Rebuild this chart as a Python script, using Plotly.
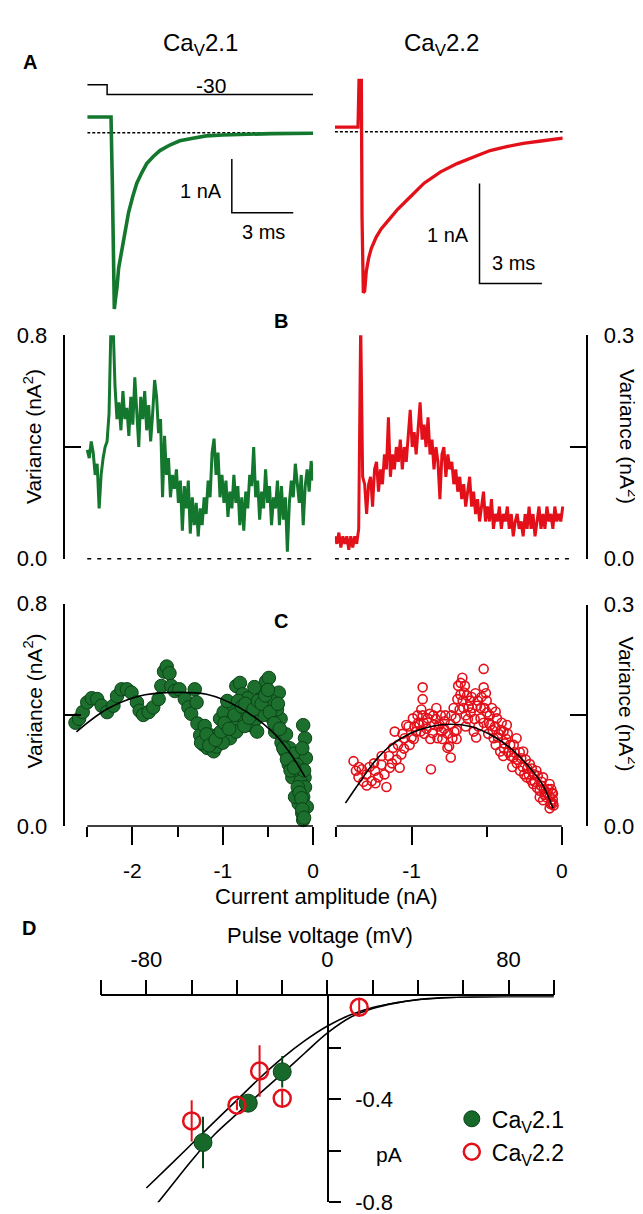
import plotly.graph_objects as go

W, H = 643, 1214
FONT = "Liberation Sans, Arial, sans-serif"
GREEN = "#13772d"
GREEN_DARK = "#0b4418"
RED = "#e3101a"

# ---------------- panel A: tail currents (time in ms, current in nA) ----------------
a21_t = [0, 1.161, 1.225, 1.290, 1.322, 1.387, 1.451, 1.532, 1.693, 1.855, 2.016, 2.225, 2.419,
         2.661, 2.903, 3.226, 3.548, 4.032, 4.516, 5.161, 5.806, 6.612, 7.419, 9.032, 11.03]
a21_i = [0.294, 0.294, -0.948, -3.150, -3.303, -3.089, -2.905, -2.538, -2.171, -1.835, -1.499,
         -1.193, -0.948, -0.752, -0.581, -0.446, -0.336, -0.232, -0.153, -0.104, -0.061, -0.043,
         -0.031, -0.018, -0.012]

a22_t = [0, 1.111, 1.159, 1.270, 1.302, 1.365, 1.429, 1.508, 1.619, 1.746, 1.984, 2.222, 2.619,
         3.016, 3.651, 4.286, 5.079, 5.873, 6.667, 7.460, 8.254, 9.048, 10.0, 10.952]
a22_i = [0.046, 0.046, 0.518, 0.518, -0.851, -1.627, -1.611, -1.413, -1.281, -1.182, -1.066,
         -0.983, -0.884, -0.785, -0.653, -0.521, -0.406, -0.323, -0.257, -0.191, -0.152, -0.119,
         -0.092, -0.066]

# voltage protocol (mV)
step_t = [0, 0.97, 0.97, 11.03]
step_mv = [0, 0, -30, -30]

# ---------------- panel B: variance vs time (0.1 ms samples) ----------------
b_dt = 0.1
b21_var = [0.39, 0.36, 0.42, 0.38, 0.30, 0.34, 0.18, 0.30, 0.36, 0.40, 0.42, 0.52, 0.85, 0.85,
           0.62, 0.50, 0.56, 0.46, 0.60, 0.50, 0.54, 0.44, 0.58, 0.48, 0.65, 0.54, 0.40, 0.58,
           0.50, 0.60, 0.46, 0.55, 0.42, 0.52, 0.64, 0.58, 0.45, 0.50, 0.22, 0.44, 0.30, 0.36,
           0.22, 0.30, 0.25, 0.32, 0.20, 0.28, 0.10, 0.26, 0.18, 0.28, 0.09, 0.22, 0.12, 0.20,
           0.08, 0.18, 0.12, 0.22, 0.16, 0.28, 0.22, 0.38, 0.43, 0.30, 0.38, 0.22, 0.30, 0.20,
           0.28, 0.15, 0.24, 0.18, 0.30, 0.20, 0.26, 0.12, 0.22, 0.10, 0.24, 0.18, 0.30, 0.26,
           0.40, 0.22, 0.28, 0.14, 0.24, 0.18, 0.32, 0.20, 0.26, 0.12, 0.22, 0.18, 0.28, 0.12,
           0.26, 0.14, 0.22, 0.025, 0.20, 0.28, 0.22, 0.34, 0.26, 0.20, 0.30, 0.12, 0.26, 0.32,
           0.24, 0.35, 0.28]
b22_var = [0.030, 0.020, 0.035, 0.015, 0.030, 0.020, 0.030, 0.012, 0.030, 0.015, 0.030, 0.020,
           0.040, 0.320, 0.110, 0.100, 0.060, 0.100, 0.110, 0.070, 0.120, 0.130, 0.090, 0.120,
           0.100, 0.140, 0.120, 0.190, 0.110, 0.140, 0.120, 0.150, 0.130, 0.160, 0.120, 0.150,
           0.130, 0.170, 0.200, 0.150, 0.170, 0.140, 0.180, 0.210, 0.160, 0.180, 0.150, 0.190,
           0.140, 0.160, 0.120, 0.150, 0.130, 0.080, 0.140, 0.150, 0.110, 0.140, 0.120, 0.130,
           0.100, 0.120, 0.090, 0.110, 0.080, 0.100, 0.070, 0.090, 0.110, 0.070, 0.090, 0.060,
           0.080, 0.050, 0.070, 0.090, 0.050, 0.070, 0.050, 0.080, 0.040, 0.060, 0.050, 0.070,
           0.040, 0.060, 0.050, 0.070, 0.040, 0.060, 0.030, 0.050, 0.060, 0.040, 0.050, 0.030,
           0.060, 0.040, 0.070, 0.040, 0.060, 0.030, 0.050, 0.070, 0.040, 0.060, 0.040, 0.070,
           0.050, 0.060, 0.040, 0.070, 0.050, 0.060, 0.050, 0.070]
b21_t = [k * b_dt for k in range(len(b21_var))]
b22_t = [k * b_dt for k in range(len(b22_var))]

# ---------------- panel C: variance vs mean current ----------------
c21_amp = [-2.63, -2.59, -2.55, -2.50, -2.45, -2.39, -2.34, -2.28, -2.21, -2.17, -2.12, -2.06,
           -2.01, -1.95, -1.92, -1.88, -1.82, -1.77, -1.71, -1.68, -1.65, -1.62, -1.59, -1.57,
           -1.53, -1.48, -1.42, -1.38, -1.35, -1.31, -1.29, -1.28, -1.25, -1.21, -1.17, -1.14,
           -1.10, -1.07, -1.03, -0.99, -0.96, -0.92, -0.88, -0.85, -0.81, -0.78, -0.74, -0.70,
           -0.67, -0.63, -0.59, -0.56, -0.52, -0.49, -0.47, -0.45, -0.42, -0.38, -0.36, -0.34,
           -0.31, -0.27, -0.23, -0.20, -0.16, -0.13, -0.11, -0.09, -0.08, -0.095, -0.11, -0.16,
           -0.12, -0.11, -0.20, -0.07, -1.20, -1.05, -0.95, -0.90, -0.80, -0.72, -0.65, -0.60,
           -0.55, -0.50, -0.46, -0.40, -0.35, -0.30, -0.26, -0.22, -0.18, -0.14, -0.12, -0.10,
           -0.09, -1.12, -1.00, -0.85, -0.76, -0.68, -0.62,
           -1.24, -1.18, -1.15, -1.08, -1.02, -0.98, -0.93, -0.87, -0.83, -0.79, -0.75, -0.71,
           -0.66, -0.61, -0.57, -0.53, -0.50, -0.48, -0.43, -0.39, -0.37, -0.33, -0.29, -0.25,
           -0.21, -0.17, -0.15, -0.13, -0.12, -0.10]
c21_var = [0.372, 0.386, 0.410, 0.445, 0.460, 0.457, 0.433, 0.410, 0.433, 0.468, 0.492, 0.492,
           0.480, 0.445, 0.415, 0.400, 0.410, 0.427, 0.457, 0.504, 0.556, 0.574, 0.550, 0.504,
           0.486, 0.492, 0.457, 0.427, 0.404, 0.492, 0.445, 0.369, 0.327, 0.292, 0.281, 0.327,
           0.269, 0.286, 0.386, 0.410, 0.363, 0.316, 0.433, 0.504, 0.515, 0.474, 0.410, 0.363,
           0.445, 0.386, 0.457, 0.480, 0.521, 0.533, 0.480, 0.386, 0.339, 0.480, 0.386, 0.316,
           0.269, 0.222, 0.175, 0.245, 0.198, 0.245, 0.363, 0.316, 0.245, 0.175, 0.105, 0.081,
           0.046, 0.022, 0.105, 0.069, 0.360, 0.330, 0.450, 0.380, 0.400, 0.460, 0.500, 0.420,
           0.400, 0.440, 0.450, 0.420, 0.300, 0.330, 0.280, 0.260, 0.220, 0.160, 0.280, 0.200,
           0.140, 0.300, 0.300, 0.340, 0.360, 0.400, 0.340,
           0.30, 0.33, 0.29, 0.31, 0.34, 0.37, 0.35, 0.40, 0.45, 0.43, 0.44, 0.39,
           0.42, 0.45, 0.44, 0.47, 0.49, 0.41, 0.37, 0.44, 0.35, 0.28, 0.24, 0.20,
           0.21, 0.14, 0.12, 0.10, 0.06, 0.03]
c21_fit_amp = [-2.62, -2.28, -1.92, -1.62, -1.18, -0.82, -0.45, -0.27, -0.09]
c21_fit_var = [0.339, 0.421, 0.468, 0.480, 0.474, 0.427, 0.339, 0.269, 0.177]

c22_amp = [-1.386, -1.353, -1.331, -1.298, -1.265, -1.243, -1.222, -1.199, -1.167, -1.145, -1.123,
           -1.112, -1.079, -1.068, -1.046, -1.035, -1.013, -0.991, -0.969, -0.947, -0.926, -0.926,
           -0.926, -0.893, -0.871, -0.849, -0.827, -0.805, -0.783, -0.761, -0.739, -0.728, -0.706,
           -0.695, -0.673, -0.662, -0.651, -0.630, -0.607, -0.586, -0.564, -0.541, -0.520, -0.520,
           -0.498, -0.476, -0.454, -0.432, -0.410, -0.388, -0.366, -0.344, -0.322, -0.301, -0.278,
           -0.257, -0.235, -0.213, -0.191, -0.169, -0.147, -0.125, -0.103, -0.081, -0.059, -0.070,
           -0.125, -0.081, -0.059, -0.147,
           -1.00, -0.98, -0.96, -0.94, -0.92, -0.90, -0.88, -0.86, -0.84, -0.82, -0.80, -0.78,
           -0.76, -0.74, -0.72, -0.70, -0.68, -0.66, -0.64, -0.62, -0.60, -0.58, -0.56, -0.54,
           -0.52, -0.50, -0.48, -0.46, -0.44, -0.42, -0.40, -0.38, -0.36, -0.34, -0.32, -0.30,
           -0.28, -0.26, -0.24, -0.22, -0.20, -0.18, -0.16, -0.14, -0.12, -0.10, -0.08, -0.07,
           -0.06, -1.20, -1.15, -1.10, -1.05, -1.25, -1.30, -1.35, -0.70, -0.64, -0.57, -0.49,
           -0.44, -0.39, -0.33,
           -1.37, -1.32, -1.28, -1.24, -1.18, -1.13, -1.09, -1.06, -1.02, -0.985, -0.955, -0.935,
           -0.915, -0.875, -0.855, -0.835, -0.815, -0.795, -0.775, -0.75, -0.735, -0.715, -0.69,
           -0.675, -0.655, -0.645, -0.625, -0.61, -0.595, -0.575, -0.555, -0.535, -0.515, -0.505,
           -0.485, -0.465, -0.445, -0.425, -0.405, -0.385, -0.37, -0.355, -0.315, -0.295, -0.27,
           -0.25, -0.23, -0.205, -0.185, -0.165, -0.135, -0.115, -0.09, -0.075, -0.065, -0.055]
c22_var = [0.088, 0.066, 0.077, 0.055, 0.061, 0.075, 0.066, 0.095, 0.053, 0.079, 0.106, 0.128,
           0.079, 0.097, 0.119, 0.137, 0.110, 0.146, 0.128, 0.137, 0.188, 0.172, 0.150, 0.146,
           0.077, 0.137, 0.119, 0.150, 0.132, 0.106, 0.093, 0.119, 0.146, 0.172, 0.194, 0.201,
           0.181, 0.177, 0.154, 0.128, 0.163, 0.146, 0.213, 0.188, 0.154, 0.137, 0.119, 0.146,
           0.101, 0.128, 0.137, 0.110, 0.093, 0.119, 0.075, 0.101, 0.066, 0.084, 0.057, 0.075,
           0.048, 0.066, 0.039, 0.057, 0.044, 0.031, 0.035, 0.024, 0.031, 0.039,
           0.120, 0.135, 0.150, 0.128, 0.140, 0.132, 0.152, 0.126, 0.145, 0.135, 0.128, 0.142,
           0.125, 0.138, 0.160, 0.130, 0.158, 0.170, 0.150, 0.162, 0.175, 0.145, 0.170, 0.160,
           0.140, 0.170, 0.150, 0.130, 0.155, 0.125, 0.140, 0.112, 0.125, 0.095, 0.110, 0.085,
           0.100, 0.080, 0.090, 0.070, 0.078, 0.060, 0.068, 0.055, 0.050, 0.045, 0.040, 0.050,
           0.036, 0.083, 0.095, 0.090, 0.105, 0.085, 0.070, 0.080, 0.118, 0.135, 0.120, 0.125,
           0.110, 0.095, 0.080,
           0.075, 0.060, 0.080, 0.058, 0.070, 0.085, 0.110, 0.125, 0.135, 0.118, 0.140, 0.158,
           0.125, 0.118, 0.150, 0.160, 0.138, 0.118, 0.150, 0.108, 0.150, 0.128, 0.190,
           0.178, 0.160, 0.190, 0.145, 0.170, 0.160, 0.180, 0.135, 0.175, 0.160, 0.180,
           0.140, 0.160, 0.135, 0.120, 0.130, 0.105, 0.118, 0.100, 0.100, 0.090, 0.092,
           0.070, 0.078, 0.062, 0.070, 0.052, 0.060, 0.042, 0.050, 0.030, 0.045, 0.028]
c22_fit_amp = [-1.44, -1.353, -1.243, -1.134, -1.002, -0.871, -0.739, -0.607, -0.476, -0.344,
               -0.213, -0.125, -0.059]
c22_fit_var = [0.031, 0.057, 0.088, 0.110, 0.126, 0.135, 0.138, 0.135, 0.124, 0.106, 0.079,
               0.055, 0.024]

# ---------------- panel D: unitary current vs pulse voltage ----------------
d21_mv = [-55, -35, -20]
d21_pa = [-0.568, -0.415, -0.293]
d21_err = [0.10, 0.023, 0.061]
d22_mv = [-60, -40, -30, -20, 14]
d22_pa = [-0.484, -0.423, -0.290, -0.396, -0.042]
d22_err = [0.08, 0.02, 0.10, 0.03, 0.035]

dfit_mv = [-80, -70, -60, -50, -40, -30, -20, -10, 0, 10, 20, 30, 40, 50, 60, 80, 100]
dfit_a_pa = [-0.745, -0.660, -0.574, -0.488, -0.403, -0.318, -0.240, -0.172, -0.115, -0.072,
             -0.043, -0.025, -0.012, -0.005, -0.002, 0, 0]
dfit_b_pa = [-0.858, -0.748, -0.638, -0.538, -0.457, -0.378, -0.300, -0.220, -0.142, -0.082,
             -0.047, -0.026, -0.013, -0.006, -0.002, 0, 0]


def fx(px):
    return px / W


def fy(py):
    return 1 - py / H


def dx(a, b):
    return [fx(a), fx(b)]


def dy(top, bottom):
    return [fy(bottom), fy(top)]


fig = go.Figure()

# A
fig.add_trace(go.Scatter(x=step_t, y=step_mv, xaxis="x", yaxis="y2", mode="lines",
                         line=dict(color="black", width=1.5)))
fig.add_trace(go.Scatter(x=[0, 11.03], y=[0, 0], xaxis="x", yaxis="y", mode="lines",
                         line=dict(color="black", width=1.5, dash="3px,2px")))
fig.add_trace(go.Scatter(x=a21_t, y=a21_i, xaxis="x", yaxis="y", mode="lines",
                         line=dict(color=GREEN, width=3.6)))
fig.add_trace(go.Scatter(x=[7.06, 7.06, 10.06], y=[-0.495, -1.5, -1.5], xaxis="x", yaxis="y",
                         mode="lines", line=dict(color="black", width=1.5)))

fig.add_trace(go.Scatter(x=[0, 10.95], y=[0, 0], xaxis="x3", yaxis="y3", mode="lines",
                         line=dict(color="black", width=1.5, dash="3px,2px")))
fig.add_trace(go.Scatter(x=a22_t, y=a22_i, xaxis="x3", yaxis="y3", mode="lines",
                         line=dict(color=RED, width=3.3)))
fig.add_trace(go.Scatter(x=[6.95, 6.95, 9.95], y=[-0.525, -1.535, -1.535], xaxis="x3", yaxis="y3",
                         mode="lines", line=dict(color="black", width=1.5)))

# B
fig.add_trace(go.Scatter(x=b21_t, y=b21_var, xaxis="x4", yaxis="y4", mode="lines",
                         line=dict(color=GREEN, width=3)))
fig.add_trace(go.Scatter(x=b22_t, y=b22_var, xaxis="x5", yaxis="y5", mode="lines",
                         line=dict(color=RED, width=3)))

# C
fig.add_trace(go.Scatter(x=c21_amp, y=c21_var, xaxis="x6", yaxis="y6", mode="markers",
                         cliponaxis=False,
                         marker=dict(size=13.5, color="#1c6f2c", line=dict(color=GREEN_DARK, width=1))))
fig.add_trace(go.Scatter(x=c21_fit_amp, y=c21_fit_var, xaxis="x6", yaxis="y6", mode="lines",
                         line=dict(color="black", width=1.6, shape="spline")))
fig.add_trace(go.Scatter(x=c22_amp, y=c22_var, xaxis="x7", yaxis="y7", mode="markers",
                         cliponaxis=False,
                         marker=dict(size=9, symbol="circle-open", color=RED, line=dict(width=1.6))))
fig.add_trace(go.Scatter(x=c22_fit_amp, y=c22_fit_var, xaxis="x7", yaxis="y7", mode="lines",
                         line=dict(color="black", width=1.6, shape="spline")))

# D
fig.add_trace(go.Scatter(x=dfit_mv, y=dfit_a_pa, xaxis="x8", yaxis="y8", mode="lines",
                         line=dict(color="black", width=1.6, shape="spline")))
fig.add_trace(go.Scatter(x=dfit_mv, y=dfit_b_pa, xaxis="x8", yaxis="y8", mode="lines",
                         line=dict(color="black", width=1.6, shape="spline")))
fig.add_trace(go.Scatter(x=d21_mv, y=d21_pa, xaxis="x8", yaxis="y8", mode="markers",
                         name="Ca<sub>V</sub>2.1", showlegend=True, cliponaxis=False,
                         error_y=dict(type="data", array=d21_err, color=GREEN_DARK, thickness=2, width=0),
                         marker=dict(size=18, color="#17692a", line=dict(color=GREEN_DARK, width=1))))
fig.add_trace(go.Scatter(x=d22_mv, y=d22_pa, xaxis="x8", yaxis="y8", mode="markers",
                         name="Ca<sub>V</sub>2.2", showlegend=True, cliponaxis=False,
                         error_y=dict(type="data", array=d22_err, color=RED, thickness=2, width=0),
                         marker=dict(size=17, symbol="circle-open", color=RED, line=dict(width=2.5))))

for tr in fig.data:
    if tr.name is None:
        tr.showlegend = False

hidden = dict(visible=False)
side_y = dict(showline=True, linecolor="black", linewidth=1.5, ticks="inside", ticklen=16,
              tickwidth=1.5, tickcolor="black", showgrid=False, zeroline=False,
              tickfont=dict(size=22, color="black"), ticklabelstandoff=12)
cx = dict(showline=False, ticks="outside", ticklen=18, tickwidth=1.5, tickcolor="black",
          showgrid=False, zeroline=False, tickfont=dict(size=21, color="black"),
          ticklabelstandoff=8)


def minor(vals, length, where):
    return dict(tickvals=vals, ticklen=length, ticks=where, tickwidth=1.5, tickcolor="black",
                showgrid=False)


fig.update_layout(
    width=W, height=H, margin=dict(l=0, r=0, t=0, b=0),
    paper_bgcolor="white", plot_bgcolor="rgba(0,0,0,0)",
    font=dict(family=FONT, color="black"),
    xaxis=dict(domain=dx(80, 308), range=[0, 11.03], anchor="y", **hidden),
    yaxis=dict(domain=dy(60, 300), range=[-3.394, 1.009], anchor="x", **hidden),
    yaxis2=dict(domain=dy(56, 86), range=[-60, 30], anchor="x", **hidden),
    xaxis3=dict(domain=dx(330, 560), range=[0, 10.952], anchor="y3", **hidden),
    yaxis3=dict(domain=dy(55, 285), range=[-1.693, 0.584], anchor="x3", **hidden),
    xaxis4=dict(domain=dx(58, 308), range=[-1.1, 11.4], anchor="y4", **hidden),
    yaxis4=dict(domain=dy(322, 550), range=[0, 0.8], anchor="x4",
                tickvals=[0, 0.8], ticktext=["0.0", "0.8"],
                minor=minor([0.4], 16, "inside"), **side_y),
    xaxis5=dict(domain=dx(330, 583), range=[0, 12.65], anchor="y5", **hidden),
    yaxis5=dict(domain=dy(322, 550), range=[0, 0.3], anchor="x5", side="right",
                tickvals=[0, 0.3], ticktext=["0.0", "0.3"],
                minor=minor([0.15], 16, "inside"), **side_y),
    xaxis6=dict(domain=dx(58, 308), range=[-2.741, 0], anchor="y6",
                tickvals=[-2, -1, 0], ticktext=["-2", "-1", "0"],
                minor=minor([-2.5, -1.5, -0.5], 10, "outside"), **cx),
    yaxis6=dict(domain=dy(596, 823), range=[0, 0.8], anchor="x6",
                tickvals=[0, 0.8], ticktext=["0.0", "0.8"],
                minor=minor([0.4], 16, "inside"), **side_y),
    xaxis7=dict(domain=dx(331.5, 583), range=[-1.5, 0.158], anchor="y7",
                tickvals=[-1, 0], ticktext=["-1", "0"],
                minor=minor([-1.5, -0.5], 10, "outside"), **cx),
    yaxis7=dict(domain=dy(597, 823), range=[0, 0.3], anchor="x7", side="right",
                tickvals=[0, 0.3], ticktext=["0.0", "0.3"],
                minor=minor([0.15], 16, "inside"), **side_y),
    xaxis8=dict(domain=dx(94, 551), range=[-100, 100], anchor="y8", side="top",
                showline=True, linecolor="black", linewidth=1.5, ticks="outside", ticklen=15,
                tickwidth=1.5, tickcolor="black", showgrid=False, zeroline=False,
                tickvals=[-80, 0, 80], ticktext=["-80", "0", "80"],
                minor=minor([-100, -60, -40, -20, 20, 40, 60, 100], 15, "outside"),
                tickfont=dict(size=22, color="black"), ticklabelstandoff=4),
    yaxis8=dict(domain=dy(997, 1207), range=[-0.8, 0], anchor="free", position=fx(323),
                side="right", showline=True, linecolor="black", linewidth=1.5, ticks="outside",
                ticklen=12, tickwidth=1.5, tickcolor="black", showgrid=False, zeroline=False,
                tickvals=[-0.4, -0.8], ticktext=["-0.4", "-0.8"],
                minor=minor([-0.2, -0.6], 12, "outside"),
                tickfont=dict(size=22, color="black"), ticklabelstandoff=10),
    legend=dict(x=fx(448), y=fy(1100), xanchor="left", yanchor="top",
                font=dict(size=23, color="black"), bgcolor="rgba(0,0,0,0)", tracegroupgap=0),
)

# axis pieces drawn separately (offset axes)
fig.add_shape(type="line", xref="x6", yref="paper", x0=-2.5, x1=0, y0=fy(823), y1=fy(823),
              line=dict(color="black", width=1.5))
fig.add_shape(type="line", xref="x7", yref="paper", x0=-1.5, x1=0, y0=fy(823), y1=fy(823),
              line=dict(color="black", width=1.5))
fig.add_shape(type="line", xref="x4", yref="paper", x0=0, x1=11.4, y0=fy(550), y1=fy(550),
              line=dict(color="black", width=1.5, dash="4px,6px"))
fig.add_shape(type="line", xref="x5", yref="paper", x0=0, x1=11.85, y0=fy(550), y1=fy(550),
              line=dict(color="black", width=1.5, dash="4px,6px"))


def label(text, x, y, size=22, angle=0, bold=False, xanchor="center"):
    if bold:
        text = "<b>" + text + "</b>"
    fig.add_annotation(text=text, x=fx(x), y=fy(y), xref="paper", yref="paper",
                       showarrow=False, textangle=angle, xanchor=xanchor, yanchor="middle",
                       font=dict(size=size, color="black", family=FONT))


label("Ca<sub>V</sub>2.1", 194, 25, size=24)
label("Ca<sub>V</sub>2.2", 438, 25, size=24)
label("A", 22, 43, size=20, bold=True)
label("-30", 205, 67, size=21)
label("1 nA", 218, 175, size=20, xanchor="right")
label("3 ms", 258, 216, size=20)
label("1 nA", 467, 220, size=20, xanchor="right")
label("3 ms", 510, 248, size=20)
label("B", 276, 307, size=20, bold=True)
label("C", 276, 614, size=20, bold=True)
label("D", 21, 927, size=20, bold=True)
label("Variance (nA<sup>2</sup>)", 25, 425, size=21, angle=-90)
label("Variance (nA<sup>2</sup>)", 25, 695, size=21, angle=-90)
label("Variance (nA<sup>2</sup>)", 626, 425, size=21, angle=90)
label("Variance (nA<sup>2</sup>)", 626, 698, size=21, angle=90)
label("Current amplitude (nA)", 322, 895)
label("Pulse voltage (mV)", 315, 935)
label("pA", 385, 1158, size=21)

fig.write_html("out.html")
